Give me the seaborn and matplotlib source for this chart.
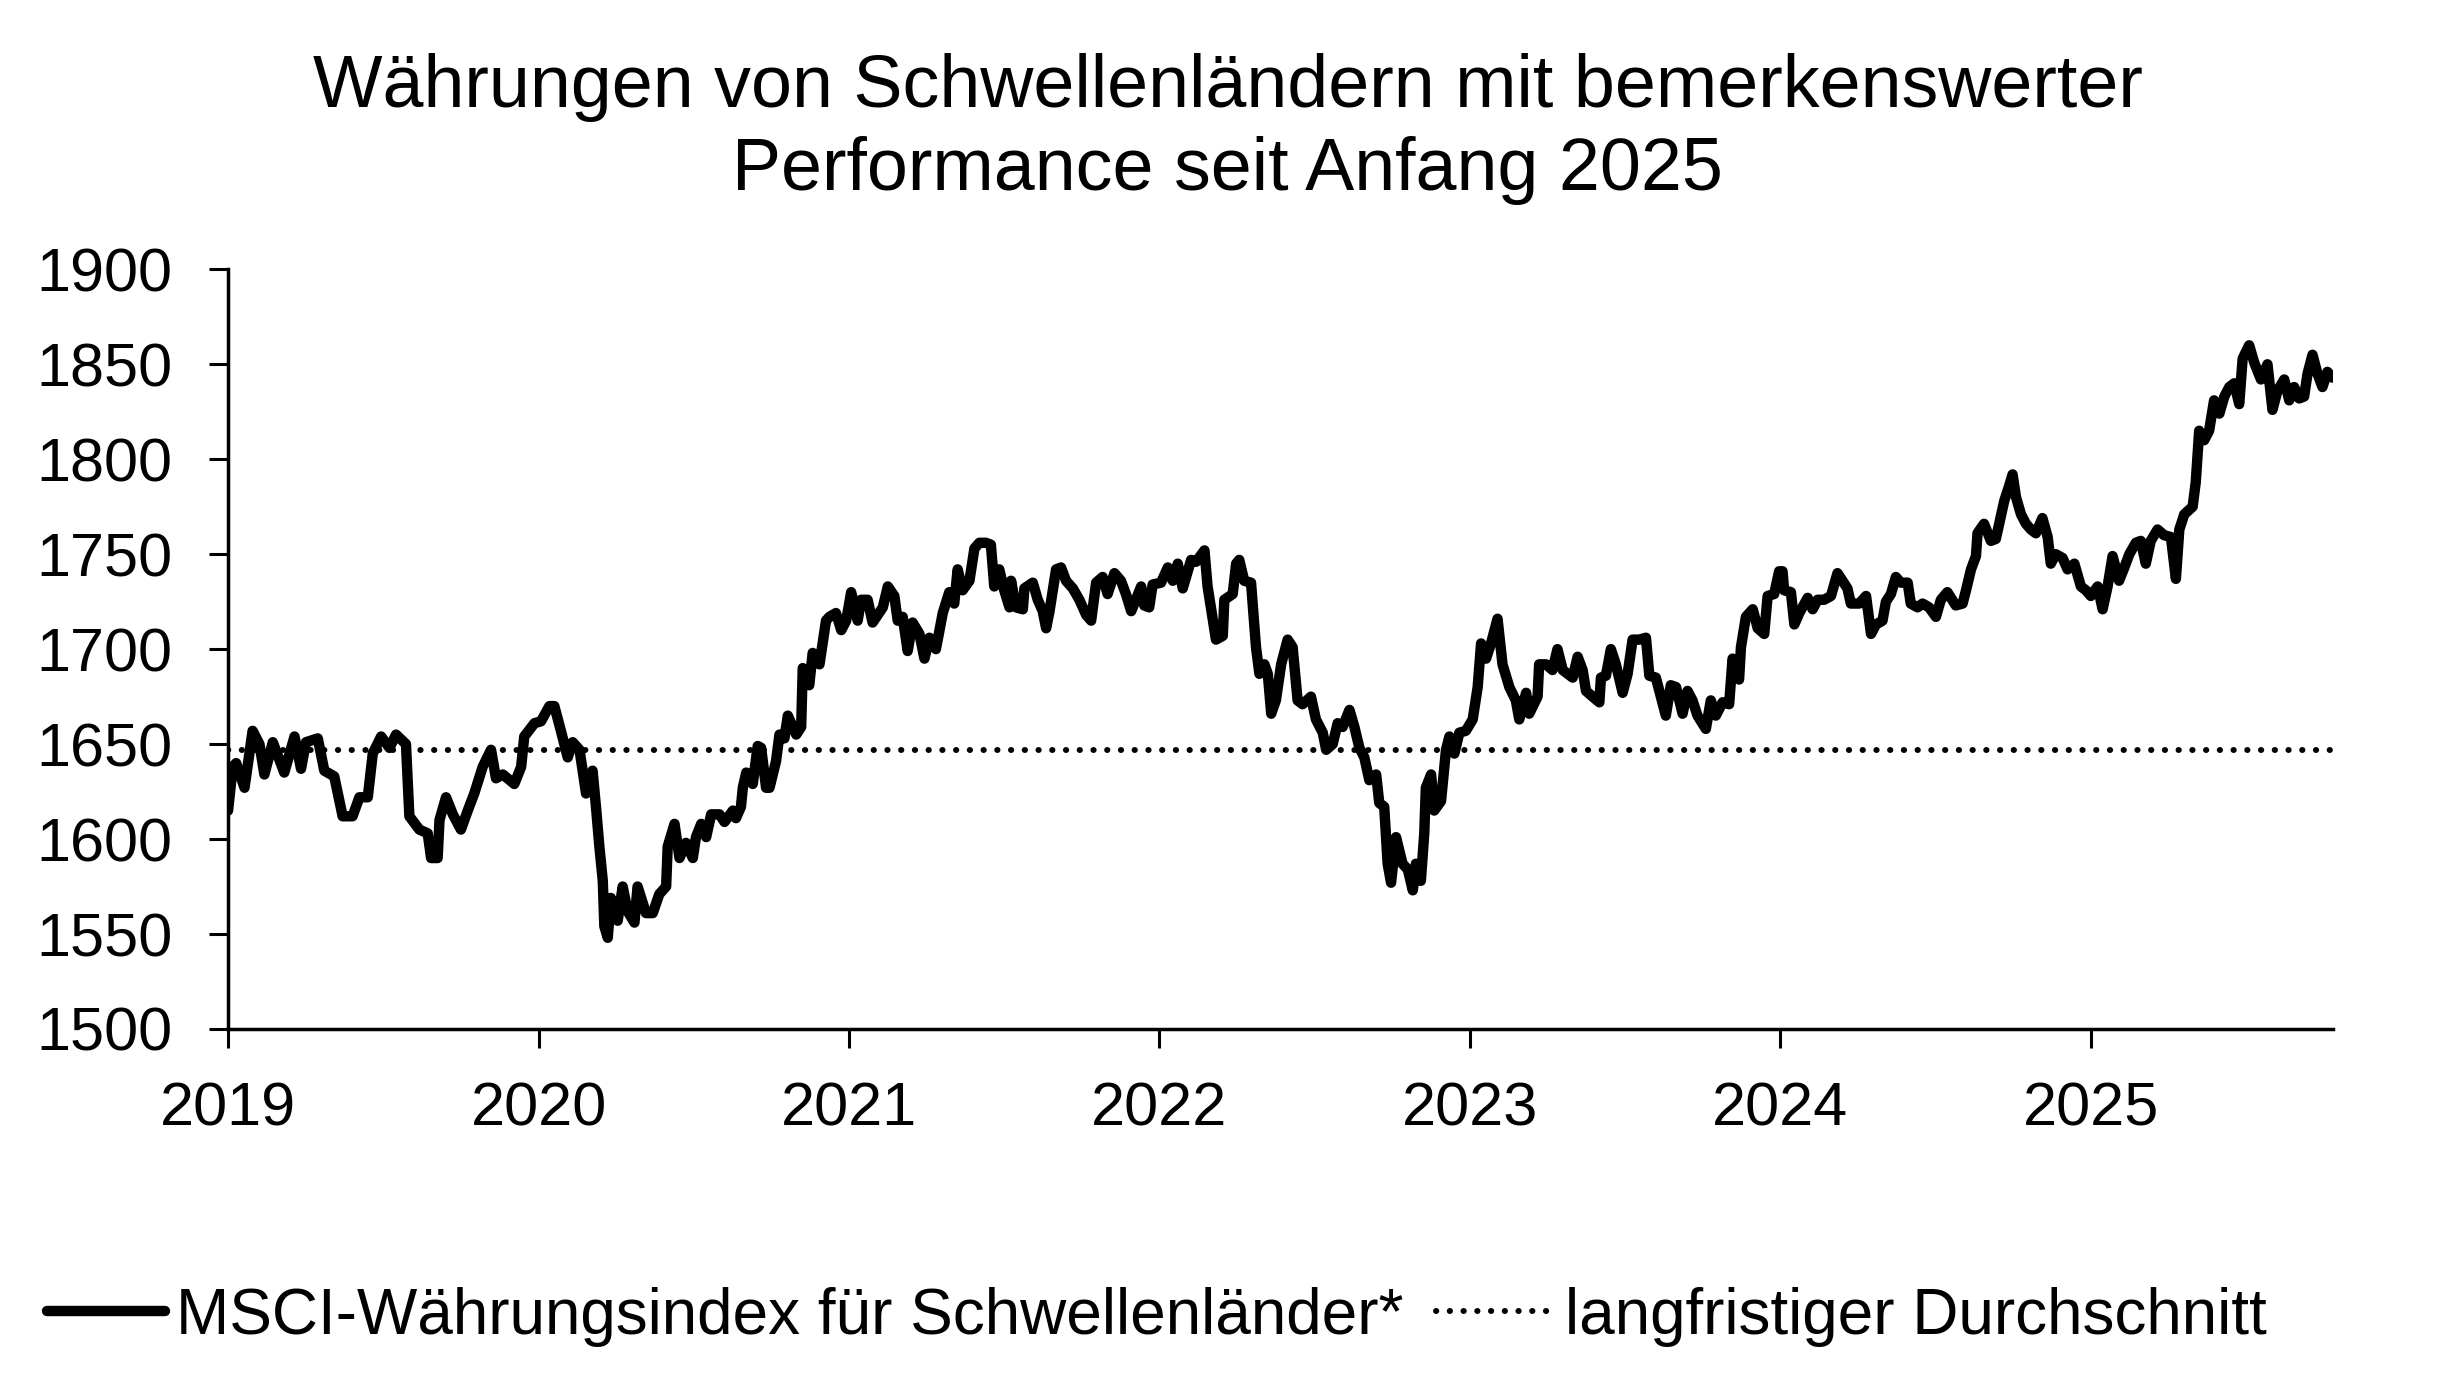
import pandas as pd
import matplotlib
matplotlib.use("Agg")
import matplotlib.pyplot as plt
import seaborn as sns

# ===== DATA =====
TITLE = "Währungen von Schwellenländern mit bemerkenswerter\nPerformance seit Anfang 2025"
LABEL_INDEX = "MSCI-Währungsindex für Schwellenländer*"
LABEL_AVG = "langfristiger Durchschnitt"

# decimal years
years = [
    2019.000, 2019.015, 2019.026, 2019.053, 2019.079, 2019.101, 2019.117, 2019.144, 2019.181, 2019.214,
    2019.235, 2019.251, 2019.289, 2019.310, 2019.342, 2019.369, 2019.401, 2019.423, 2019.450, 2019.466,
    2019.493, 2019.520, 2019.541, 2019.573, 2019.584, 2019.616, 2019.643, 2019.654, 2019.675, 2019.681,
    2019.702, 2019.724, 2019.750, 2019.772, 2019.793, 2019.820, 2019.847, 2019.863, 2019.885, 2019.922,
    2019.944, 2019.954, 2019.987, 2020.008, 2020.035, 2020.051, 2020.072, 2020.094, 2020.110, 2020.132,
    2020.153, 2020.174, 2020.185, 2020.196, 2020.207, 2020.212, 2020.223, 2020.233, 2020.255, 2020.271,
    2020.287, 2020.309, 2020.319, 2020.346, 2020.368, 2020.389, 2020.411, 2020.416, 2020.438, 2020.454,
    2020.475, 2020.497, 2020.507, 2020.524, 2020.540, 2020.556, 2020.583, 2020.599, 2020.626, 2020.636,
    2020.652, 2020.658, 2020.669, 2020.690, 2020.706, 2020.717, 2020.733, 2020.744, 2020.765, 2020.776,
    2020.792, 2020.803, 2020.830, 2020.846, 2020.851, 2020.872, 2020.883, 2020.905, 2020.926, 2020.937,
    2020.958, 2020.975, 2020.991, 2021.007, 2021.028, 2021.039, 2021.060, 2021.076, 2021.109, 2021.125,
    2021.146, 2021.157, 2021.173, 2021.189, 2021.205, 2021.227, 2021.243, 2021.259, 2021.280, 2021.302,
    2021.323, 2021.339, 2021.350, 2021.366, 2021.388, 2021.404, 2021.420, 2021.441, 2021.457, 2021.468,
    2021.484, 2021.500, 2021.517, 2021.522, 2021.538, 2021.560, 2021.565, 2021.592, 2021.608, 2021.624,
    2021.635, 2021.646, 2021.667, 2021.683, 2021.699, 2021.721, 2021.742, 2021.764, 2021.780, 2021.796,
    2021.817, 2021.833, 2021.855, 2021.876, 2021.892, 2021.909, 2021.924, 2021.941, 2021.951, 2021.967,
    2021.978, 2022.005, 2022.027, 2022.043, 2022.059, 2022.075, 2022.102, 2022.118, 2022.145, 2022.155,
    2022.182, 2022.204, 2022.209, 2022.236, 2022.247, 2022.257, 2022.273, 2022.295, 2022.311, 2022.322,
    2022.338, 2022.349, 2022.360, 2022.375, 2022.392, 2022.413, 2022.429, 2022.445, 2022.461, 2022.488,
    2022.504, 2022.526, 2022.537, 2022.558, 2022.574, 2022.590, 2022.612, 2022.628, 2022.644, 2022.660,
    2022.676, 2022.698, 2022.708, 2022.724, 2022.735, 2022.746, 2022.762, 2022.783, 2022.800, 2022.816,
    2022.826, 2022.842, 2022.853, 2022.858, 2022.875, 2022.885, 2022.907, 2022.923, 2022.934, 2022.950,
    2022.966, 2022.987, 2023.009, 2023.025, 2023.036, 2023.052, 2023.068, 2023.089, 2023.105, 2023.127,
    2023.148, 2023.159, 2023.181, 2023.191, 2023.218, 2023.223, 2023.245, 2023.266, 2023.282, 2023.299,
    2023.331, 2023.347, 2023.363, 2023.374, 2023.395, 2023.417, 2023.422, 2023.438, 2023.454, 2023.470,
    2023.492, 2023.508, 2023.524, 2023.545, 2023.567, 2023.578, 2023.599, 2023.615, 2023.631, 2023.647,
    2023.664, 2023.685, 2023.701, 2023.717, 2023.733, 2023.760, 2023.776, 2023.792, 2023.814, 2023.835,
    2023.846, 2023.867, 2023.873, 2023.889, 2023.911, 2023.927, 2023.948, 2023.959, 2023.980, 2023.996,
    2024.007, 2024.012, 2024.034, 2024.045, 2024.061, 2024.088, 2024.104, 2024.120, 2024.141, 2024.163,
    2024.184, 2024.216, 2024.227, 2024.254, 2024.276, 2024.292, 2024.308, 2024.329, 2024.340, 2024.356,
    2024.372, 2024.388, 2024.410, 2024.420, 2024.442, 2024.458, 2024.479, 2024.501, 2024.517, 2024.538,
    2024.565, 2024.587, 2024.598, 2024.614, 2024.630, 2024.635, 2024.656, 2024.678, 2024.694, 2024.710,
    2024.721, 2024.737, 2024.748, 2024.759, 2024.775, 2024.791, 2024.807, 2024.823, 2024.844, 2024.861,
    2024.871, 2024.887, 2024.909, 2024.925, 2024.947, 2024.968, 2024.984, 2025.000, 2025.022, 2025.038,
    2025.054, 2025.070, 2025.091, 2025.108, 2025.124, 2025.145, 2025.161, 2025.177, 2025.193, 2025.215,
    2025.236, 2025.258, 2025.274, 2025.285, 2025.301, 2025.328, 2025.338, 2025.349, 2025.365, 2025.381,
    2025.397, 2025.414, 2025.430, 2025.446, 2025.462, 2025.478, 2025.489, 2025.510, 2025.526, 2025.548,
    2025.569, 2025.585, 2025.601, 2025.623, 2025.639, 2025.655, 2025.671, 2025.687, 2025.698, 2025.714,
    2025.730, 2025.746, 2025.762, 2025.778,
]

index_values = [
    1615, 1638, 1640, 1627, 1657, 1650, 1634, 1651, 1635, 1654,
    1637, 1651, 1653, 1636, 1633, 1612, 1612, 1622, 1622, 1645,
    1654, 1648, 1655, 1650, 1612, 1605, 1603, 1590, 1590, 1610,
    1622, 1613, 1605, 1615, 1624, 1638, 1647, 1632, 1634, 1629,
    1638, 1654, 1661, 1662, 1670, 1670, 1657, 1643, 1651, 1647,
    1624, 1636, 1617, 1596, 1578, 1554, 1548, 1569, 1557, 1575,
    1562, 1556, 1575, 1561, 1561, 1571, 1575, 1596, 1608, 1590,
    1598, 1590, 1601, 1608, 1601, 1613, 1613, 1609, 1615, 1611,
    1617, 1627, 1635, 1629, 1649, 1648, 1627, 1627, 1641, 1655,
    1653, 1665, 1655, 1659, 1690, 1681, 1698, 1692, 1715, 1717,
    1719, 1710, 1715, 1730, 1715, 1726, 1726, 1714, 1722, 1733,
    1728, 1715, 1717, 1699, 1714, 1708, 1695, 1706, 1700, 1719,
    1730, 1724, 1742, 1731, 1736, 1753, 1756, 1756, 1755, 1733,
    1742, 1731, 1722, 1736, 1722, 1721, 1732, 1735, 1726, 1720,
    1711, 1720, 1742, 1743, 1736, 1732, 1726, 1718, 1715, 1735,
    1738, 1729, 1740, 1736, 1729, 1720, 1726, 1733, 1723, 1722,
    1734, 1735, 1743, 1736, 1745, 1732, 1747, 1746, 1752, 1733,
    1705, 1707, 1726, 1729, 1745, 1747, 1736, 1735, 1701, 1687,
    1692, 1687, 1666, 1673, 1692, 1705, 1701, 1673, 1671, 1675,
    1663, 1656, 1647, 1650, 1661, 1659, 1668, 1659, 1648, 1643,
    1631, 1634, 1619, 1617, 1587, 1577, 1601, 1587, 1584, 1573,
    1587, 1578, 1603, 1627, 1634, 1615, 1620, 1647, 1654, 1645,
    1656, 1657, 1663, 1680, 1703, 1695, 1703, 1716, 1692, 1680,
    1673, 1663, 1677, 1666, 1675, 1692, 1692, 1689, 1700, 1689,
    1685, 1696, 1689, 1678, 1675, 1672, 1685, 1686, 1700, 1692,
    1677, 1687, 1705, 1705, 1706, 1686, 1685, 1675, 1665, 1681,
    1680, 1666, 1678, 1673, 1665, 1658, 1673, 1665, 1672, 1671,
    1695, 1684, 1701, 1717, 1721, 1711, 1708, 1728, 1729, 1741,
    1741, 1731, 1730, 1713, 1719, 1727, 1721, 1726, 1726, 1728,
    1740, 1732, 1724, 1724, 1728, 1708, 1713, 1715, 1725, 1729,
    1738, 1735, 1735, 1724, 1722, 1724, 1722, 1717, 1726, 1730,
    1723, 1724, 1731, 1742, 1749, 1761, 1766, 1757, 1758, 1770,
    1778, 1786, 1792, 1780, 1771, 1766, 1763, 1761, 1769, 1759,
    1745, 1750, 1748, 1742, 1745, 1733, 1731, 1728, 1733, 1721,
    1733, 1749, 1736, 1743, 1750, 1756, 1757, 1745, 1757, 1763,
    1760, 1759, 1737, 1763, 1771, 1775, 1788, 1815, 1810, 1815,
    1831, 1824, 1833, 1838, 1840, 1829, 1853, 1860, 1851, 1842,
    1850, 1826, 1836, 1842, 1831, 1838, 1832, 1833, 1845, 1855,
    1845, 1838, 1846, 1843,
]

LONG_TERM_AVG = 1647
YEAR_TICKS = [2019, 2020, 2021, 2022, 2023, 2024, 2025]
VALUE_TICKS = [1500, 1550, 1600, 1650, 1700, 1750, 1800, 1850, 1900]


def plot_chart():
    df = pd.DataFrame({"year": years, "value": index_values})

    sns.set_theme(style="white")
    plt.rcParams["font.family"] = ["Liberation Sans", "DejaVu Sans"]
    plt.rcParams["text.color"] = "black"

    fig = plt.figure(figsize=(24.55, 13.86), dpi=100)
    ax = fig.add_axes([0.0929, 0.2576, 0.8574, 0.5481])

    # index line
    sns.lineplot(data=df, x="year", y="value", ax=ax, color="black",
                 linewidth=7.5, label=LABEL_INDEX, legend=False,
                 solid_joinstyle="round", solid_capstyle="round")

    # long-term average (dotted)
    ax.axhline(LONG_TERM_AVG, color="black", linewidth=4.3,
               linestyle=(0, (0.05, 2.25)), dash_capstyle="round",
               label=LABEL_AVG)

    ax.set_xlim(2019, 2025.78)
    ax.set_ylim(1500, 1900)
    ax.set_xticks(YEAR_TICKS)
    ax.set_xticklabels([str(y) for y in YEAR_TICKS])
    ax.set_yticks(VALUE_TICKS)
    ax.set_xlabel("")
    ax.set_ylabel("")

    for side in ["top", "right"]:
        ax.spines[side].set_visible(False)
    for side in ["left", "bottom"]:
        ax.spines[side].set_color("black")
        ax.spines[side].set_linewidth(2.5)

    ax.tick_params(axis="both", direction="out", bottom=True, left=True,
                   length=14, width=2.2, color="black", labelsize=44,
                   labelcolor="black")
    ax.tick_params(axis="x", pad=24)
    ax.tick_params(axis="y", pad=26)

    fig.text(0.5, 0.907, TITLE, ha="center", va="center", fontsize=53,
             linespacing=1.25, color="black")

    handles, labels = ax.get_legend_handles_labels()
    leg = fig.legend(handles, labels, loc="center left", bbox_to_anchor=(0.019, 0.050),
                     ncol=2, frameon=False, fontsize=46, handlelength=1.85,
                     handletextpad=0.18, columnspacing=0.5, borderpad=0,
                     borderaxespad=0)
    for text in leg.get_texts():
        text.set_color("black")

    fig.savefig("out.png", dpi=100, facecolor="white")


if __name__ == "__main__":
    plot_chart()
